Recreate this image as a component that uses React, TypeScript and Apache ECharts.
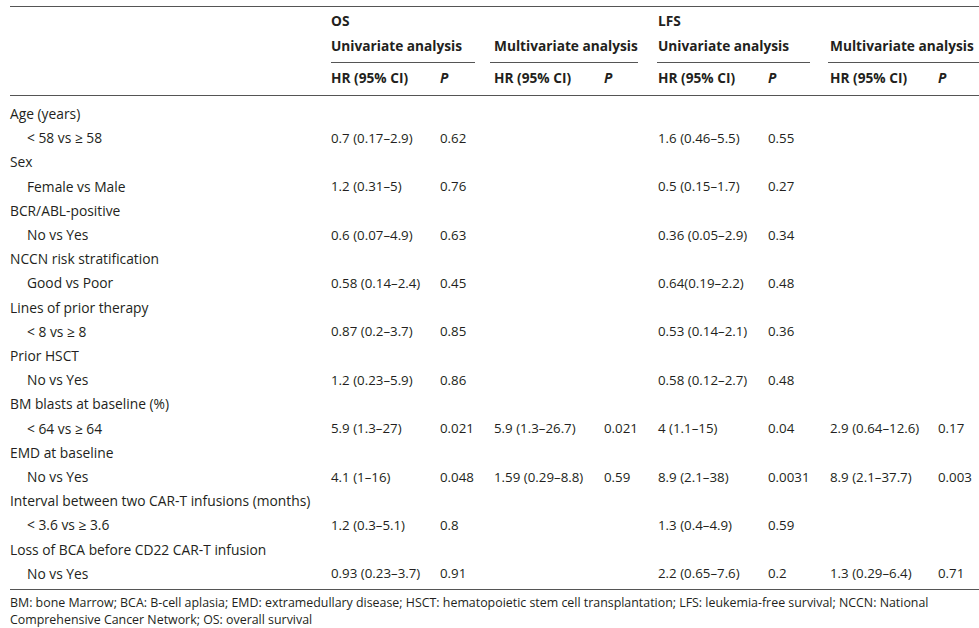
import React, { useEffect, useRef } from "react";
import * as echarts from "echarts";

const rowLabels = [
  "Age (years)", "< 58 vs ≥ 58",
  "Sex", "Female vs Male",
  "BCR/ABL-positive", "No vs Yes",
  "NCCN risk stratification", "Good vs Poor",
  "Lines of prior therapy", "< 8 vs ≥ 8",
  "Prior HSCT", "No vs Yes",
  "BM blasts at baseline (%)", "< 64 vs ≥ 64",
  "EMD at baseline", "No vs Yes",
  "Interval between two CAR-T infusions (months)", "< 3.6 vs ≥ 3.6",
  "Loss of BCA before CD22 CAR-T infusion", "No vs Yes",
];
const rowIndent = [0, 1, 0, 1, 0, 1, 0, 1, 0, 1, 0, 1, 0, 1, 0, 1, 0, 1, 0, 1];

const osUniHR = ["", "0.7 (0.17–2.9)", "", "1.2 (0.31–5)", "", "0.6 (0.07–4.9)", "", "0.58 (0.14–2.4)", "", "0.87 (0.2–3.7)", "", "1.2 (0.23–5.9)", "", "5.9 (1.3–27)", "", "4.1 (1–16)", "", "1.2 (0.3–5.1)", "", "0.93 (0.23–3.7)"];
const osUniP = ["", "0.62", "", "0.76", "", "0.63", "", "0.45", "", "0.85", "", "0.86", "", "0.021", "", "0.048", "", "0.8", "", "0.91"];
const osMultiHR = ["", "", "", "", "", "", "", "", "", "", "", "", "", "5.9 (1.3–26.7)", "", "1.59 (0.29–8.8)", "", "", "", ""];
const osMultiP = ["", "", "", "", "", "", "", "", "", "", "", "", "", "0.021", "", "0.59", "", "", "", ""];
const lfsUniHR = ["", "1.6 (0.46–5.5)", "", "0.5 (0.15–1.7)", "", "0.36 (0.05–2.9)", "", "0.64(0.19–2.2)", "", "0.53 (0.14–2.1)", "", "0.58 (0.12–2.7)", "", "4 (1.1–15)", "", "8.9 (2.1–38)", "", "1.3 (0.4–4.9)", "", "2.2 (0.65–7.6)"];
const lfsUniP = ["", "0.55", "", "0.27", "", "0.34", "", "0.48", "", "0.36", "", "0.48", "", "0.04", "", "0.0031", "", "0.59", "", "0.2"];
const lfsMultiHR = ["", "", "", "", "", "", "", "", "", "", "", "", "", "2.9 (0.64–12.6)", "", "8.9 (2.1–37.7)", "", "", "", "1.3 (0.29–6.4)"];
const lfsMultiP = ["", "", "", "", "", "", "", "", "", "", "", "", "", "0.17", "", "0.003", "", "", "", "0.71"];

const groupTitles = ["OS", "LFS"];
const analysisTitles = ["Univariate analysis", "Multivariate analysis", "Univariate analysis", "Multivariate analysis"];
const hrHeader = "HR (95% CI)";
const pHeader = "P";
const footnote = [
  "BM: bone Marrow; BCA: B-cell aplasia; EMD: extramedullary disease; HSCT: hematopoietic stem cell transplantation; LFS: leukemia-free survival; NCCN: National",
  "Comprehensive Cancer Network; OS: overall survival",
];

const FONT = "'Open Sans', 'Noto Sans', sans-serif";
const TXT = "#231f20";
const LINE = "#555555";

export default function App() {
  const ref = useRef<HTMLDivElement>(null);
  useEffect(() => {
    if (!ref.current) return;
    const chart = echarts.init(ref.current, undefined, { renderer: "svg" });
    const els: any[] = [];
    const text = (x: number, y: number, s: string, opt: any = {}) => {
      if (!s) return;
      els.push({
        type: "text",
        x,
        y,
        style: {
          text: s,
          fill: TXT,
          font: `${opt.italic ? "italic " : ""}${opt.bold ? "bold " : ""}${opt.size || 13.3}px ${FONT}`,
          verticalAlign: "middle",
          align: "left",
        },
      });
    };
    const hline = (x1: number, x2: number, y: number) => {
      els.push({
        type: "line",
        shape: { x1, y1: y, x2, y2: y },
        style: { stroke: LINE, lineWidth: 1.2 },
      });
    };

    const colX = [331, 494, 658, 830];
    const pX = [440, 604, 768, 938];
    const analysisLines = [
      [331, 475],
      [490, 638],
      [657, 810],
      [828, 979],
    ];

    hline(10, 979, 6.5);
    text(colX[0], 20, groupTitles[0], { bold: true, size: 13.7 });
    text(colX[2], 20, groupTitles[1], { bold: true, size: 13.7 });
    analysisTitles.forEach((t, i) => text(colX[i], 45, t, { bold: true, size: 13.7 }));
    analysisLines.forEach(([a, b]) => hline(a, b, 62.5));
    colX.forEach((x, i) => {
      text(x, 77, hrHeader, { bold: true, size: 13.7 });
      text(pX[i], 77, pHeader, { bold: true, italic: true, size: 13.7 });
    });
    hline(10, 979, 95.5);

    const y0 = 113.5;
    const step = 24.2;
    const cols = [osUniHR, osMultiHR, lfsUniHR, lfsMultiHR];
    const pcols = [osUniP, osMultiP, lfsUniP, lfsMultiP];
    rowLabels.forEach((lab, r) => {
      const y = y0 + r * step;
      text(rowIndent[r] ? 27 : 10, y, lab, { size: 13.8 });
      cols.forEach((c, i) => text(colX[i], y, c[r]));
      pcols.forEach((c, i) => text(pX[i], y, c[r]));
    });
    hline(10, 979, 589.5);
    text(10, 602, footnote[0], { size: 12.4 });
    text(10, 619, footnote[1], { size: 12.4 });

    chart.setOption({ animation: false, graphic: { elements: els } });
    return () => chart.dispose();
  }, []);
  return (
    <div
      ref={ref}
      style={{ position: "fixed", left: 0, top: 0, width: 979, height: 628, background: "#fff" }}
    />
  );
}
